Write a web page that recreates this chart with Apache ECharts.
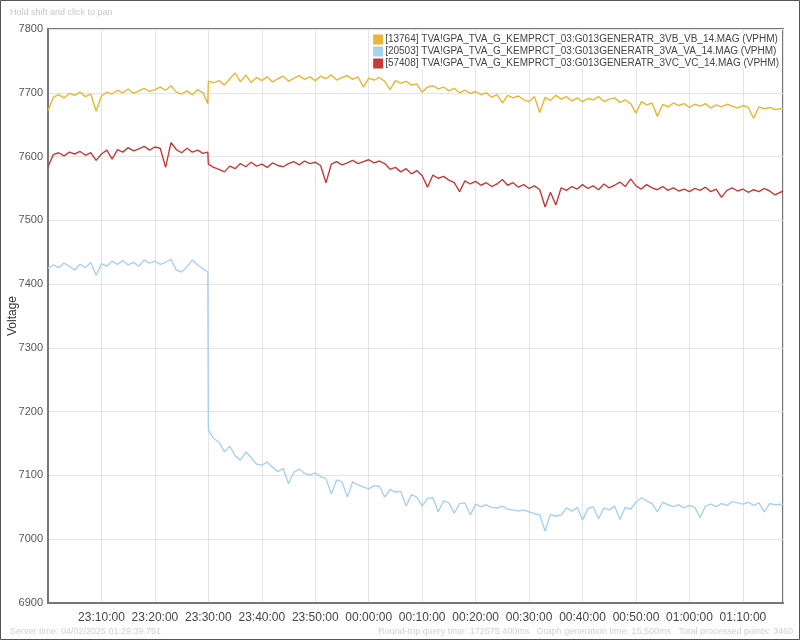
<!DOCTYPE html>
<html>
<head>
<meta charset="utf-8">
<script src="https://cdn.jsdelivr.net/npm/echarts@6/dist/echarts.min.js"></script>
<style>
html,body{margin:0;padding:0;background:#fff;}
#chart{width:800px;height:640px;}
</style>
</head>
<body>
<div id="chart"></div>
<script>
// minutes since 23:00:00
const minutes = [
  0,1,2,3,4,5,6,7,8,9,
  10,11,12,13,14,15,16,17,18,19,
  20,21,22,23,24,25,26,27,28,29,
  29.9,
  30,31,32,33,34,35,36,37,38,39,
  40,41,42,43,44,45,46,47,48,49,
  50,51,52,53,54,55,56,57,58,59,
  60,61,62,63,64,65,66,67,68,69,
  70,71,72,73,74,75,76,77,78,79,
  80,81,82,83,84,85,86,87,88,89,
  90,91,92,93,94,95,96,97,98,99,
  100,101,102,103,104,105,106,107,108,109,
  110,111,112,113,114,115,116,117,118,119,
  120,121,122,123,124,125,126,127,128,129,
  130,131,132,133,134,135,136,137.5
];

const seriesNames = [
  "[13764] TVA!GPA_TVA_G_KEMPRCT_03:G013GENERATR_3VB_VB_14.MAG (VPHM)",
  "[20503] TVA!GPA_TVA_G_KEMPRCT_03:G013GENERATR_3VA_VA_14.MAG (VPHM)",
  "[57408] TVA!GPA_TVA_G_KEMPRCT_03:G013GENERATR_3VC_VC_14.MAG (VPHM)"
];

const vb = [
  7672,7693,7697,7692,7699,7696,7701,7694,7698,7671,
  7695,7701,7698,7704,7700,7706,7699,7703,7707,7702,
  7705,7709,7704,7711,7701,7698,7703,7697,7705,7700,
  7683,
  7718,7716,7719,7712,7722,7731,7717,7728,7716,7724,
  7719,7725,7717,7722,7726,7718,7723,7727,7721,7725,
  7719,7726,7722,7728,7720,7724,7727,7721,7725,7709,
  7723,7720,7724,7718,7705,7719,7715,7718,7712,7714,
  7701,7709,7711,7706,7709,7703,7707,7700,7704,7699,
  7702,7697,7700,7693,7697,7684,7696,7692,7695,7689,
  7686,7694,7669,7693,7688,7696,7690,7694,7687,7692,
  7686,7691,7689,7694,7686,7690,7692,7685,7689,7683,
  7668,7686,7681,7684,7663,7682,7678,7684,7680,7683,
  7677,7682,7679,7683,7676,7681,7678,7682,7679,7676,
  7680,7677,7660,7678,7675,7677,7674,7675
];

const va = [
  7425,7430,7426,7433,7428,7422,7431,7426,7434,7414,
  7432,7428,7436,7431,7437,7430,7434,7428,7438,7433,
  7436,7431,7434,7439,7422,7419,7427,7438,7430,7424,
  7419,
  7171,7158,7152,7137,7146,7131,7124,7137,7128,7118,
  7116,7121,7113,7106,7111,7087,7105,7110,7103,7101,
  7104,7098,7095,7071,7093,7090,7066,7090,7085,7082,
  7079,7084,7083,7066,7078,7074,7075,7052,7070,7066,
  7052,7064,7065,7043,7060,7057,7041,7056,7057,7038,
  7055,7051,7054,7050,7049,7052,7047,7046,7044,7046,
  7043,7040,7038,7013,7039,7036,7038,7049,7044,7050,
  7030,7048,7051,7032,7049,7046,7052,7031,7050,7047,
  7058,7065,7060,7056,7043,7058,7054,7051,7054,7049,
  7053,7050,7034,7052,7055,7051,7056,7053,7059,7057,
  7055,7058,7053,7057,7043,7056,7054,7055
];

const vc = [
  7584,7603,7606,7601,7607,7604,7608,7602,7606,7594,
  7604,7610,7596,7611,7607,7614,7609,7612,7616,7610,
  7615,7613,7583,7622,7611,7606,7613,7607,7610,7605,
  7607,
  7588,7583,7580,7576,7585,7581,7589,7584,7591,7585,
  7588,7583,7590,7586,7584,7589,7592,7587,7593,7589,
  7591,7586,7559,7588,7592,7587,7590,7594,7589,7592,
  7595,7590,7593,7589,7580,7583,7576,7581,7573,7578,
  7570,7552,7571,7566,7569,7563,7559,7545,7562,7557,
  7561,7555,7559,7553,7557,7564,7555,7559,7552,7556,
  7550,7554,7548,7521,7544,7524,7551,7547,7553,7549,
  7556,7550,7554,7548,7557,7551,7555,7560,7553,7565,
  7554,7549,7556,7551,7548,7553,7547,7551,7546,7549,
  7545,7550,7547,7552,7545,7549,7536,7547,7551,7546,
  7549,7544,7548,7545,7550,7546,7540,7546
];

const colors = ['#e8b634', '#a8d1f0', '#c43b3b'];
const yTicks = { min: 6900, max: 7800, interval: 100 };
const xRange = { min: 0, max: 137.5, interval: 10 };

function pair(vals){ return vals.map((v,i)=>[minutes[i], v]); }
function pad(n){ return (n<10?'0':'')+n; }
function clock(v){
  let tot = Math.round(23*60 + v) % 1440;
  return pad(Math.floor(tot/60)) + ':' + pad(tot%60) + ':00';
}

const chart = echarts.init(document.getElementById('chart'), null, {renderer:'canvas'});
const font = 'Liberation Sans, Arial, sans-serif';
chart.setOption({
  animation: false,
  backgroundColor: '#fff',
  color: colors,
  textStyle: { fontFamily: font },
  grid: { left: 48, top: 29, right: 17, bottom: 37, containLabel: false, outerBoundsMode: 'none', show: true, borderColor: '#777', borderWidth: 2, backgroundColor: 'transparent' },
  legend: {
    data: seriesNames,
    orient: 'vertical',
    right: 21, top: 34,
    itemWidth: 10, itemHeight: 10, itemGap: 1,
    icon: 'rect',
    backgroundColor: 'rgba(255,255,255,0.85)',
    padding: [0,0,0,0],
    textStyle: { fontSize: 10, color: '#444', fontFamily: font, padding: [0,0,0,-3], lineHeight: 11 }
  },
  xAxis: {
    type: 'value', min: xRange.min, max: xRange.max, interval: xRange.interval,
    axisLine: { show: true, lineStyle: { color: '#777', width: 2 } },
    axisTick: { show: false },
    axisLabel: { formatter: clock, color: '#444', fontSize: 12, margin: 9, showMinLabel: false, showMaxLabel: false },
    splitLine: { show: true, lineStyle: { color: '#e4e4e4', width: 1 } }
  },
  yAxis: {
    type: 'value', min: yTicks.min, max: yTicks.max, interval: yTicks.interval,
    name: 'Voltage', nameLocation: 'middle', nameGap: 29, nameMoveOverlap: false,
    nameTextStyle: { color: '#333', fontSize: 12, fontFamily: font },
    axisLine: { show: true, lineStyle: { color: '#777', width: 2 } },
    axisTick: { show: false },
    axisLabel: { color: '#555', fontSize: 11, margin: 5, formatter: (v) => String(v) },
    splitLine: { show: true, lineStyle: { color: '#e4e4e4', width: 1 } }
  },
  graphic: [
    { type: 'rect', shape: { x: 0.5, y: 0.5, width: 799, height: 639 }, style: { fill: 'none', stroke: '#555', lineWidth: 1 }, silent: true },
    { type: 'text', left: 10, top: 8, style: { text: 'Hold shift and click to pan', fill: '#c8c8c8', fontSize: 9, fontFamily: font } },
    { type: 'text', left: 10, top: 627, style: { text: 'Server time: 04/02/2025 01:29:39.751', fill: '#d0d0d0', fontSize: 9, fontFamily: font } },
    { type: 'text', right: 7, top: 627, style: { text: 'Round-trip query time: 172575.400ms   Graph generation time: 15.500ms   Total processed points: 3460', fill: '#d0d0d0', fontSize: 9, fontFamily: font } }
  ],
  series: [
    { name: seriesNames[0], type: 'line', data: pair(vb), showSymbol: false, lineStyle: { width: 1.4, color: colors[0] }, z: 3 },
    { name: seriesNames[1], type: 'line', data: pair(va), showSymbol: false, lineStyle: { width: 1.4, color: colors[1] }, z: 2 },
    { name: seriesNames[2], type: 'line', data: pair(vc), showSymbol: false, lineStyle: { width: 1.4, color: colors[2] }, z: 2 }
  ]
});
</script>
</body>
</html>
